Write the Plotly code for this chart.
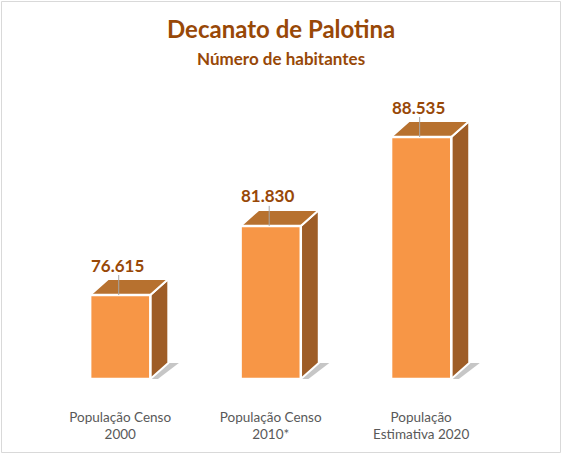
import plotly.graph_objects as go

categories = ["População Censo<br>2000", "População Censo<br>2010*", "População<br>Estimativa 2020"]
values = [76615, 81830, 88535]

W, H = 562, 454
ml, mr, mt, mb = 45, 28, 95, 75
y_min, y_max = 70278, 91704
x_min, x_max = -0.5, 2.75

px_per_y = (H - mt - mb) / (y_max - y_min)
px_per_x = (W - ml - mr) / (x_max - x_min)

half_w = 0.2
dx = 18 / px_per_x
dy = 16 / px_per_y

front_col = "#F79646"
top_col = "#B7712F"
side_col = "#9E5D27"
label_col = "#984807"

fig = go.Figure()

for i, v in enumerate(values):
    xl, xr = i - half_w, i + half_w
    # soft floor shadow
    p = 1 / px_per_y
    fig.add_trace(go.Scatter(
        x=[xl - 0.035, xr + 0.02, xr + dx + 0.07, xr + dx - 0.01, xl - 0.035],
        y=[y_min - 3 * p, y_min - 3.5 * p, y_min + dy, y_min + dy, y_min - 3 * p],
        fill="toself", fillcolor="rgba(128,128,128,0.45)", mode="lines",
        line=dict(width=0), hoverinfo="skip", showlegend=False))
    # side face
    fig.add_trace(go.Scatter(
        x=[xr, xr, xr + dx, xr + dx, xr],
        y=[y_min, v, v + dy, y_min + dy, y_min],
        fill="toself", fillcolor=side_col, mode="lines",
        line=dict(color="white", width=2), hoverinfo="skip", showlegend=False))
    # top face
    fig.add_trace(go.Scatter(
        x=[xl, xr, xr + dx, xl + dx, xl],
        y=[v, v, v + dy, v + dy, v],
        fill="toself", fillcolor=top_col, mode="lines",
        line=dict(color="white", width=2), hoverinfo="skip", showlegend=False))
    # front face
    fig.add_trace(go.Scatter(
        x=[xl, xr, xr, xl, xl],
        y=[y_min, y_min, v, v, y_min],
        fill="toself", fillcolor=front_col, mode="lines",
        line=dict(color="white", width=2.5), hoverinfo="skip", showlegend=False))
    # leader line
    fig.add_trace(go.Scatter(
        x=[i - 0.01, i - 0.01],
        y=[v, v + dy + 4 / px_per_y],
        mode="lines", line=dict(color="#A6A6A6", width=1),
        hoverinfo="skip", showlegend=False))
    fig.add_annotation(
        x=i - 0.02, y=v + dy, yshift=14, yanchor="middle",
        text=f"{v:,}".replace(",", "."), showarrow=False,
        font=dict(family="Lato", size=17, color=label_col, weight="bold"))

pw, ph = W - ml - mr, H - mt - mb
cx = (W / 2 - ml) / pw

fig.add_annotation(
    xref="paper", yref="paper", x=cx, y=1 + (mt - 28) / ph,
    text="<b>Decanato de Palotina</b>", showarrow=False, yanchor="middle",
    font=dict(family="Lato", size=24, color=label_col))
fig.add_annotation(
    xref="paper", yref="paper", x=cx, y=1 + (mt - 58) / ph,
    text="<b>Número de habitantes</b>", showarrow=False, yanchor="middle",
    font=dict(family="Lato", size=17, color=label_col))

# chart border
fig.add_shape(
    type="rect", xref="paper", yref="paper",
    x0=(1.5 - ml) / pw, x1=(W - 1.5 - ml) / pw,
    y0=-(mb - 1.5) / ph, y1=1 + (mt - 1.5) / ph,
    line=dict(color="#D9D9D9", width=1))

fig.update_xaxes(
    range=[x_min, x_max], tickvals=list(range(len(categories))), ticktext=categories,
    showgrid=False, zeroline=False, showline=False, ticks="",
    ticklabelstandoff=28,
    tickfont=dict(family="Lato", size=13.5, color="#595959"))
fig.update_yaxes(range=[y_min, y_max], visible=False)

fig.update_layout(
    width=W, height=H, margin=dict(l=ml, r=mr, t=mt, b=mb),
    plot_bgcolor="white", paper_bgcolor="white",
    showlegend=False)

fig.write_html("out.html", config={"displayModeBar": False},
               post_script="document.body.style.margin='0';")
